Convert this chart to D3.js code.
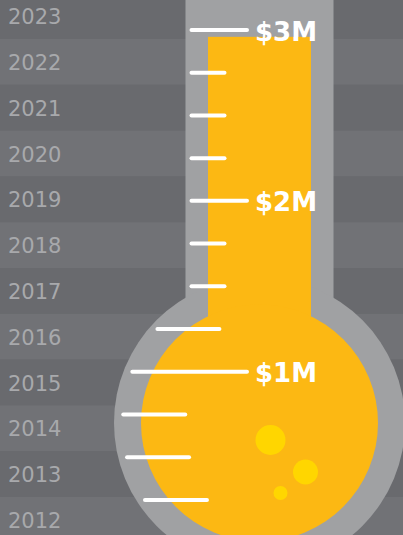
<!DOCTYPE html>
<html>
<head>
<meta charset="utf-8">
<script src="https://cdn.jsdelivr.net/npm/d3@7"></script>
<style>
  html, body { margin: 0; padding: 0; background: #696a6e; overflow: hidden; }
  svg { display: block; }
</style>
</head>
<body>
<div id="chart"></div>
<script>
const years = ["2023", "2022", "2021", "2020", "2019", "2018", "2017", "2016", "2015", "2014", "2013", "2012"];
const raised = 2.96; // $M
const tickValues = [0.25, 0.5, 0.75, 1, 1.25, 1.5, 1.75, 2, 2.25, 2.5, 2.75, 3];
const majorTicks = [1, 2, 3];
const majorLabels = ["$1M", "$2M", "$3M"];
const bubbles = [
  { dx: 11, dy: 17, r: 15 },
  { dx: 46, dy: 49, r: 12.5 },
  { dx: 21, dy: 70, r: 7 }
];

const width = 403, height = 535;

const svg = d3.select('#chart')
  .append('svg')
  .attr('width', width)
  .attr('height', height);

// year stripes
const yBand = d3.scaleBand()
  .domain(years)
  .range([-6.8, 542.8]);

svg.selectAll('.stripe')
  .data(years)
  .join('rect')
  .attr('class', 'stripe')
  .attr('x', 0)
  .attr('y', d => yBand(d))
  .attr('width', width)
  .attr('height', yBand.bandwidth())
  .attr('fill', (d, i) => i % 2 ? '#717276' : '#696a6e');

svg.selectAll('.year')
  .data(years)
  .join('text')
  .attr('class', 'year')
  .attr('x', 8)
  .attr('y', d => yBand(d) + yBand.bandwidth() / 2 + 8)
  .attr('fill', '#a8a9ac')
  .style('font-family', 'DejaVu Sans')
  .style('font-size', '21px')
  .text(d => d);

// value scale
const y = d3.scaleLinear()
  .domain([0, 3])
  .range([542.6, 30]);

const cx = 259.5, cy = 423;
const outerR = 145.5, innerR = 118.5;
const tubeOuter = 74, tubeInner = 51.5;

const therm = svg.append('g');

therm.append('rect')
  .attr('x', cx - tubeOuter)
  .attr('y', -10)
  .attr('width', tubeOuter * 2)
  .attr('height', cy + 10)
  .attr('fill', '#a0a1a3');

therm.append('circle')
  .attr('cx', cx)
  .attr('cy', cy)
  .attr('r', outerR)
  .attr('fill', '#a0a1a3');

therm.append('rect')
  .attr('x', cx - tubeInner)
  .attr('y', y(raised))
  .attr('width', tubeInner * 2)
  .attr('height', cy - y(raised))
  .attr('fill', '#fcb813');

therm.append('circle')
  .attr('cx', cx)
  .attr('cy', cy)
  .attr('r', innerR)
  .attr('fill', '#fcb813');

therm.selectAll('.bubble')
  .data(bubbles)
  .join('circle')
  .attr('class', 'bubble')
  .attr('cx', d => cx + d.dx)
  .attr('cy', d => cy + d.dy)
  .attr('r', d => d.r)
  .attr('fill', '#ffd600');

// left edge of the glass at a given height
function outerEdge(py) {
  const neck = cy - Math.sqrt(outerR * outerR - tubeOuter * tubeOuter);
  if (py < neck) return cx - tubeOuter;
  return cx - Math.sqrt(outerR * outerR - (py - cy) * (py - cy));
}
const neckY = cy - Math.sqrt(outerR * outerR - tubeOuter * tubeOuter);

svg.selectAll('.tick')
  .data(tickValues)
  .join('line')
  .attr('class', 'tick')
  .attr('x1', d => outerEdge(y(d)) + (y(d) < neckY ? 6 : 9))
  .attr('x2', d => {
    const x0 = outerEdge(y(d)) + (y(d) < neckY ? 6 : 9);
    if (majorTicks.includes(d)) return 247;
    return y(d) < neckY ? x0 + 33 : x0 + 62;
  })
  .attr('y1', d => y(d))
  .attr('y2', d => y(d))
  .attr('stroke', '#fff')
  .attr('stroke-width', 4)
  .attr('stroke-linecap', 'round');

svg.selectAll('.label')
  .data(majorTicks)
  .join('text')
  .attr('class', 'label')
  .attr('x', 255)
  .attr('y', d => y(d) + 10.5)
  .attr('fill', '#fff')
  .style('font-family', 'DejaVu Sans')
  .style('font-weight', 'bold')
  .style('font-size', '26px')
  .text((d, i) => majorLabels[i]);
</script>
</body>
</html>
